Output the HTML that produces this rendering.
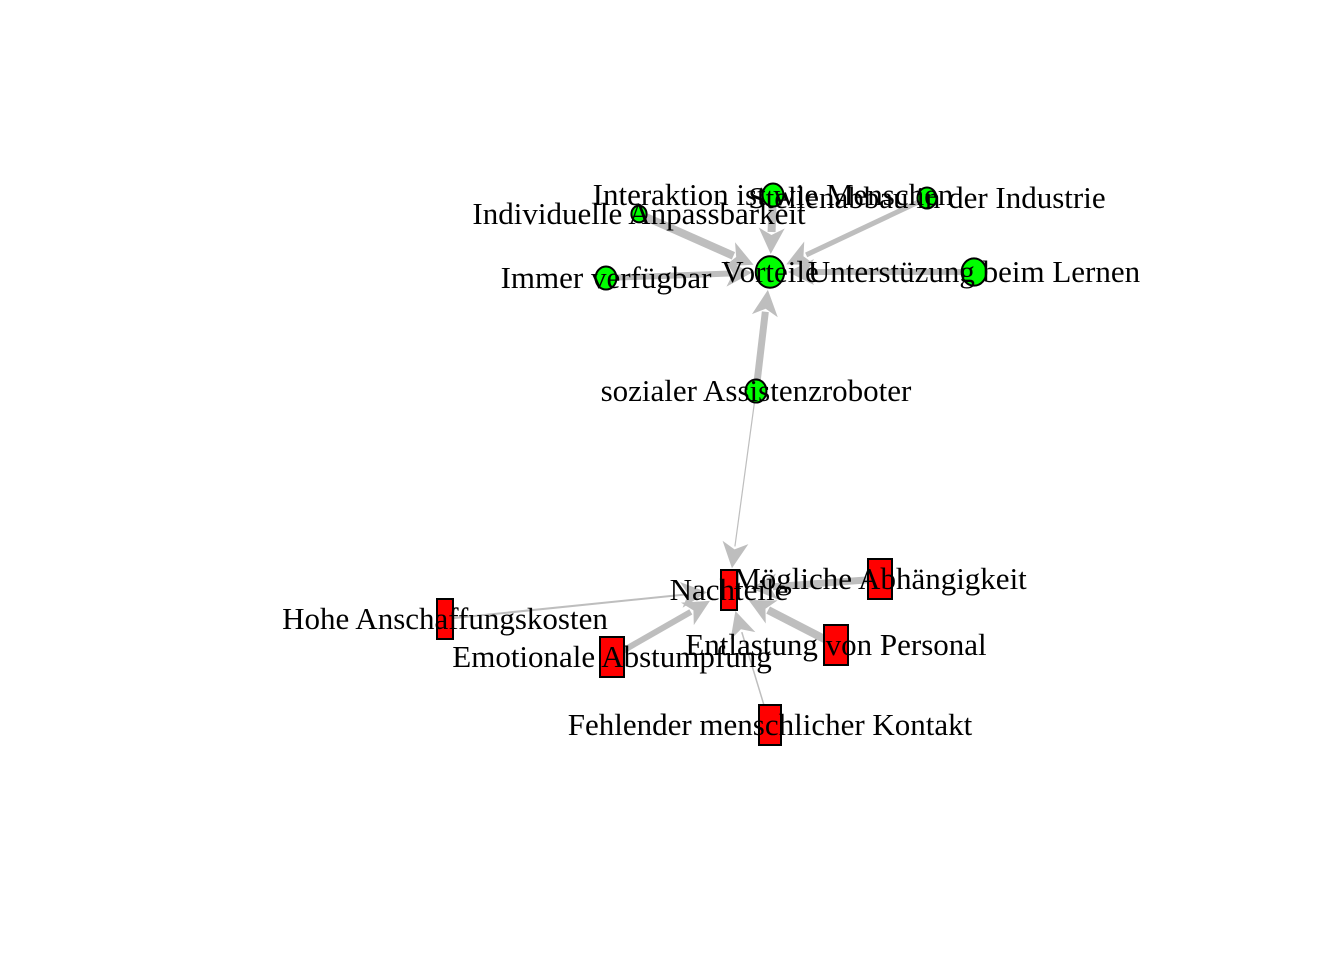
<!DOCTYPE html>
<html><head><meta charset="utf-8"><style>
html,body{margin:0;padding:0;background:#fff;}
svg text{font-family:"Liberation Serif",serif;font-size:31px;fill:#000;}
</style></head><body>
<svg id="chart" width="1344" height="960" viewBox="0 0 1344 960" xmlns="http://www.w3.org/2000/svg">
<g id="edges"></g>
<g id="nodes"></g>
<g id="labels"></g>
</svg>
<script>
const nodeNames = ["Vorteile","Individuelle Anpassbarkeit","Interaktion ist wie Menschen","Stellenabbau in der Industrie","Immer verfügbar","Unterstüzung beim Lernen","sozialer Assistenzroboter","Nachteile","Mögliche Abhängigkeit","Hohe Anschaffungskosten","Emotionale Abstumpfung","Entlastung von Personal","Fehlender menschlicher Kontakt"];
const nodeX = [770,639,773,927,606,974,756,729,880,445,612,836,770];
const nodeY = [272,214,195,198,278,272,391,590,579,619,657,645,725];
const nodeShape = ["circle","circle","circle","circle","circle","circle","circle","rect","rect","rect","rect","rect","rect"];
const nodeSize = [15,8,11,10,11,13,11,16,24,16,24,24,22];
const edgeFrom = [1,2,3,4,5,6,6,8,9,10,11,12];
const edgeTo   = [0,0,0,0,0,0,7,7,7,7,7,7];
const edgeWidth = [8,8,5,6,6,7,1.2,7,2,6,8,1.5];

const NS="http://www.w3.org/2000/svg";
const eg=document.getElementById('edges'), ng=document.getElementById('nodes'), lg=document.getElementById('labels');
function mk(t,a){const e=document.createElementNS(NS,t);for(const k in a)e.setAttribute(k,a[k]);return e;}
for(let i=0;i<edgeFrom.length;i++){
  const a=edgeFrom[i],b=edgeTo[i];
  const x1=nodeX[a],y1=nodeY[a],x2=nodeX[b],y2=nodeY[b];
  const dx=x2-x1,dy=y2-y1,L=Math.hypot(dx,dy),ux=dx/L,uy=dy/L;
  const stop=nodeShape[b]==="circle"?18:22;
  const ex=x2-ux*stop,ey=y2-uy*stop;
  const al=26,aw=13;
  const bx=ex-ux*al,by=ey-uy*al;
  const line=mk('line',{x1:x1,y1:y1,x2:bx+ux*4,y2:by+uy*4,stroke:'#BEBEBE','stroke-width':edgeWidth[i]});
  
  
  eg.appendChild(line);
  const px=-uy,py=ux;
  const head=mk('polygon',{points:`${ex},${ey} ${bx+px*aw},${by+py*aw} ${bx+ux*7},${by+uy*7} ${bx-px*aw},${by-py*aw}`,fill:'#BEBEBE'});
  
  
  eg.appendChild(head);
}
for(let i=0;i<nodeNames.length;i++){
  let n;
  if(nodeShape[i]==="circle"){
    n=mk('ellipse',{cx:nodeX[i],cy:nodeY[i],rx:nodeSize[i]*0.95,ry:nodeSize[i]*1.05,fill:'#00FF00',stroke:'#000','stroke-width':2});
  } else {
    const w=nodeSize[i],h=40;
    n=mk('rect',{x:nodeX[i]-w/2,y:nodeY[i]-h/2,width:w,height:h,fill:'#FF0000',stroke:'#000','stroke-width':2});
  }
  
  
  ng.appendChild(n);
  const t=mk('text',{x:nodeX[i],y:nodeY[i]+10,'text-anchor':'middle'});
  t.textContent=nodeNames[i];
  
  
  lg.appendChild(t);
}
</script>
</body></html>
